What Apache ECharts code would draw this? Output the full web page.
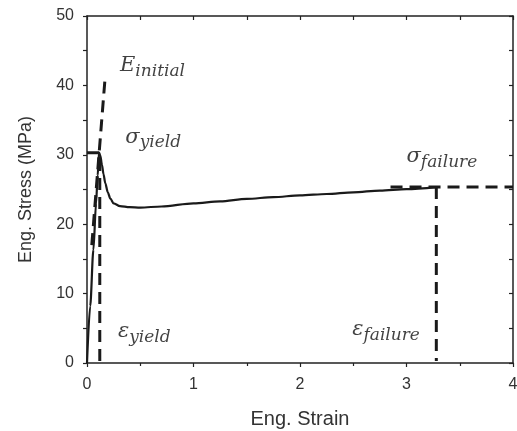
<!DOCTYPE html>
<html>
<head>
<meta charset="utf-8">
<script src="https://cdn.jsdelivr.net/npm/echarts@6/dist/echarts.min.js"></script>
<style>html,body{margin:0;padding:0;background:#fff;}#c{width:517px;height:431px;}</style>
</head>
<body>
<div id="c"></div>
<script>
// Main engineering stress-strain curve
const strain = [0, 0.03, 0.06, 0.085, 0.1, 0.113, 0.125, 0.14, 0.155, 0.172, 0.195, 0.219, 0.25, 0.31, 0.4, 0.5, 0.7, 1.0, 1.25, 1.5, 1.75, 2.0, 2.25, 2.5, 2.75, 3.0, 3.28];
const stress = [0, 8.2, 16.3, 23, 27, 30.3, 29.9, 28.6, 27.2, 25.9, 24.6, 23.7, 23.0, 22.6, 22.45, 22.4, 22.55, 23.0, 23.3, 23.65, 23.9, 24.15, 24.35, 24.6, 24.85, 25.05, 25.35];
// Reference (dashed) lines
const eInitialLine = [[0.045, 17], [0.172, 41.5]];
const yieldHLine = [[0, 30.3], [0.12, 30.3]];
const yieldVLine = [[0.12, 0.3], [0.12, 30.3]];
const failureHLine = [[2.85, 25.35], [4, 25.35]];
const failureVLine = [[3.28, 25.35], [3.28, 0.3]];
// Annotation labels: [strain, stress, main symbol, subscript]
const annotations = [
  [0.31, 42.8, 'E', 'initial'],
  [0.36, 32.5, 'σ', 'yield'],
  [3.0, 29.7, 'σ', 'failure'],
  [0.29, 4.5, 'ε', 'yield'],
  [2.49, 4.8, 'ε', 'failure']
];
const xTicks = { min: 0, max: 4, interval: 1 };
const yTicks = { min: 0, max: 50, interval: 10 };

const chart = echarts.init(document.getElementById('c'));
const lineCol = '#1a1a1a';
const axisCol = '#222';
const sans = 'Liberation Sans, Arial, sans-serif';
const mathFont = 'DejaVu Serif';

function dashed(data) {
  return { type: 'line', data: data, symbol: 'none', silent: true,
    lineStyle: { color: lineCol, width: 3, type: [12, 7] }, z: 3 };
}
const baseX = { type: 'value', min: xTicks.min, max: xTicks.max, interval: xTicks.interval,
  splitLine: { show: false }, axisLine: { show: true, onZero: false, lineStyle: { color: axisCol, width: 1.5 } } };
const baseY = { type: 'value', min: yTicks.min, max: yTicks.max, interval: yTicks.interval,
  splitLine: { show: false }, axisLine: { show: true, onZero: false, lineStyle: { color: axisCol, width: 1.5 } } };

chart.setOption({
  animation: false,
  backgroundColor: '#fff',
  grid: { left: 87, right: 4, top: 16, bottom: 68, outerBoundsMode: 'none', containLabel: false },
  xAxis: [
    Object.assign({}, baseX, { position: 'bottom',
      axisTick: { show: true, inside: false, length: 4, lineStyle: { color: axisCol, width: 1.2 } },
      minorTick: { show: true, splitNumber: 2, length: 3, lineStyle: { color: axisCol, width: 1.2 } },
      axisLabel: { fontSize: 16, color: '#333', fontFamily: sans, margin: 14 },
      name: 'Eng. Strain', nameLocation: 'middle', nameGap: 46,
      nameTextStyle: { fontSize: 20, color: '#333', fontFamily: sans } }),
    Object.assign({}, baseX, { position: 'top',
      axisTick: { show: true, inside: true, length: 4, lineStyle: { color: axisCol, width: 1.2 } },
      minorTick: { show: true, splitNumber: 2, length: 4, lineStyle: { color: axisCol, width: 1.2 } },
      axisLabel: { show: false } })
  ],
  yAxis: [
    Object.assign({}, baseY, { position: 'left',
      axisTick: { show: true, inside: false, length: 4, lineStyle: { color: axisCol, width: 1.2 } },
      minorTick: { show: true, splitNumber: 2, length: 4, lineStyle: { color: axisCol, width: 1.2 } },
      axisLabel: { fontSize: 16, color: '#333', fontFamily: sans, margin: 13 },
      name: 'Eng. Stress (MPa)', nameLocation: 'middle', nameGap: 52,
      nameTextStyle: { fontSize: 18, color: '#333', fontFamily: sans } }),
    Object.assign({}, baseY, { position: 'right',
      axisTick: { show: true, inside: true, length: 4, lineStyle: { color: axisCol, width: 1.2 } },
      minorTick: { show: true, splitNumber: 2, length: 4, lineStyle: { color: axisCol, width: 1.2 } },
      axisLabel: { show: false } })
  ],
  series: [
    { type: 'line', data: strain.map((x, i) => [x, stress[i]]), symbol: 'none', smooth: 0.3,
      smoothMonotone: 'x', lineStyle: { color: lineCol, width: 2.2 }, z: 4 },
    dashed(eInitialLine),
    dashed(yieldHLine),
    dashed(yieldVLine),
    dashed(failureHLine),
    dashed(failureVLine),
    { type: 'scatter', symbolSize: 0, silent: true, z: 5,
      data: annotations.map(a => ({ value: [a[0], a[1]], main: a[2], sub: a[3] })),
      label: { show: true, position: 'right', distance: 0,
        formatter: p => '{m|' + p.data.main + '}{s|' + p.data.sub + '}',
        rich: {
          m: { fontFamily: mathFont, fontStyle: 'italic', fontSize: 21, color: '#111', lineHeight: 28 },
          s: { fontFamily: mathFont, fontStyle: 'italic', fontSize: 17, color: '#111', lineHeight: 17, verticalAlign: 'bottom' }
        } } }
  ]
});
</script>
</body>
</html>
